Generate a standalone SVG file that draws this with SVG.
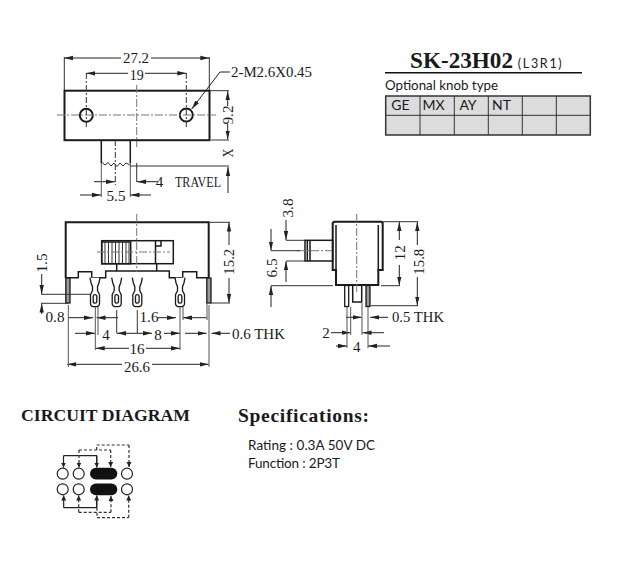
<svg xmlns="http://www.w3.org/2000/svg" xmlns:xlink="http://www.w3.org/1999/xlink" width="617" height="567" viewBox="0 0 617 567">
<style>
.o{fill:none;stroke:#1a1a1a;stroke-width:1.5}
.oo{fill:none;stroke:#1a1a1a;stroke-width:2}
.t{fill:none;stroke:#333;stroke-width:1}
.g{fill:none;stroke:#555;stroke-width:1}
.c{fill:none;stroke:#777;stroke-width:1;stroke-dasharray:8 2 2 2}
.cd{fill:none;stroke:#333;stroke-width:1;stroke-dasharray:6 2 2 2}
.a{fill:none;stroke:#222;stroke-width:1;marker-end:url(#ah)}
.ca{fill:none;stroke:#222;stroke-width:1.2;marker-end:url(#sa)}
.cl{fill:none;stroke:#222;stroke-width:1.2}
.da{fill:none;stroke:#333;stroke-width:1.2;stroke-dasharray:3 2;marker-end:url(#sa)}
.dl{fill:none;stroke:#333;stroke-width:1.2;stroke-dasharray:3 2}
text{fill:#1a1a1a}
.d{font-family:"Liberation Serif",serif;font-size:15.5px;text-anchor:middle}
.ds{font-family:"Liberation Serif",serif;font-size:15.5px}
.s{font-family:"Lato","Noto Sans",sans-serif;font-size:13.5px}
.cell{font-family:"Lato","Noto Sans",sans-serif;font-size:14px;text-anchor:middle}
.pin{fill:#fff;stroke:#1a1a1a;stroke-width:1.3}
.sp{fill:#999;stroke:#1a1a1a;stroke-width:1.3}
.nd{fill:#fff;stroke:#222;stroke-width:1.2}
</style>
<defs>
<marker id="ah" markerWidth="10" markerHeight="6" refX="9" refY="3" orient="auto" markerUnits="userSpaceOnUse"><path d="M0,0.8L9,3L0,5.2z" fill="#222"/></marker>
<marker id="sa" markerWidth="6" markerHeight="6" refX="5" refY="3" orient="auto" markerUnits="userSpaceOnUse"><path d="M0,0.5L5,3L0,5.5z" fill="#222"/></marker>
<g id="term">
<path class="pin" d="M-5,0L-4,5L-2.5,9L-2.5,13L-4.5,17L-4.5,26Q-4.5,29 0,29Q4.5,29 4.5,26L4.5,17L2.5,13L2.5,9L4,5L5,0"/>
<rect class="pin" x="-1.8" y="17" width="3.6" height="8.5" rx="1.8"/>
</g>
</defs>
<rect width="617" height="567" fill="#fff"/>

<g id="top-view">
<rect class="oo" x="64.5" y="90.7" width="145" height="49.5"/>
<circle class="oo" cx="86.3" cy="115.3" r="6.5"/>
<circle class="oo" cx="186.3" cy="115" r="6.5"/>
<path class="o" d="M101.3,140V163M130.3,140V163"/>
<path class="t" d="M101.3,162L105,165L108,162.5L111,166L114,163L117,166.5L120,163L123,166L126,163L130.3,165"/>
</g>

<g id="front-view">
<path class="oo" d="M65.7,278V222.3H208.7V278"/>
<path class="o" d="M65.7,277.7H78.3V271.7H91.7V277.7H105.7V271H169.3V277.7H182.7V271.7H196.7V277.7H208.7"/>
<rect class="o" x="101.7" y="240.7" width="71.6" height="23"/>
<path class="o" d="M116.7,263.7V271M156.7,263.7V271M155.5,240.7V263.7M155.5,246H161V241"/>
<path class="o" d="M101.7,242H130.7V263.7H101.7z"/>
<path class="t" d="M105,241V263M108.5,241V263M112,241V263M115.5,241V263M119,241V263M122.5,241V263M126,241V263M129,241V263" stroke-width="2"/>
<rect class="sp" x="65.8" y="278" width="4.2" height="25"/>
<rect class="sp" x="206.8" y="278" width="4.2" height="25"/>
<use xlink:href="#term" href="#term" x="95" y="277.7"/>
<use xlink:href="#term" href="#term" x="116.7" y="277.7"/>
<use xlink:href="#term" href="#term" x="137.3" y="277.7"/>
<use xlink:href="#term" href="#term" x="180" y="277.7"/>
</g>

<g id="side-view">
<path class="oo" d="M336,285V270H332.7V223L334,221.7H381L382.7,223V270H378.3V285H336z"/>
<path class="o" d="M336,225V270M378.3,225V270"/>
<rect class="o" x="305" y="240.3" width="27.7" height="20.7"/>
<path class="o" d="M307.3,240.3V261M310,240.3V261"/>
<path class="o" d="M352.7,285V302H361.7V285"/>
<rect class="pin" x="344.7" y="285.5" width="4" height="21"/>
<rect class="sp" x="366" y="285.5" width="4" height="21"/>
</g>

<g id="circuit">
<circle class="nd" cx="62.7" cy="473.7" r="5.5"/>
<circle class="nd" cx="78.7" cy="473.7" r="5.5"/>
<rect x="90" y="467.7" width="27.3" height="11.8" rx="5.9" fill="#111"/>
<circle class="nd" cx="127" cy="473.7" r="5.5"/>
<circle class="nd" cx="62.7" cy="489.3" r="5.5"/>
<circle class="nd" cx="78.7" cy="489.3" r="5.5"/>
<rect x="90" y="483.4" width="27.3" height="11.8" rx="5.9" fill="#111"/>
<circle class="nd" cx="127" cy="489.3" r="5.5"/>
</g>

<g id="connectors">
<path class="c" d="M57,115H216"/>
<path class="c" d="M136.7,85V147"/>
<path class="cd" d="M86.3,73V128M186.3,73V128M115.3,140V185"/>
<path class="c" d="M136.7,214V272"/>
<path class="c" d="M97,252H170"/>
<path class="c" d="M356.7,214V292"/>
<path class="c" d="M297,250.7H332"/>

<path class="t" d="M64.3,57V90M209.3,57V90"/>
<path class="a" d="M121,58H64.3"/><path class="a" d="M151,58H209.3"/>
<path class="a" d="M128,73.3H86.3"/><path class="a" d="M145,73.3H186.3"/>
<path class="a" d="M230,72H220L191.7,109"/>
<path class="t" d="M210,90.7H229M211,140H229"/>
<path class="a" d="M227.7,106V91"/><path class="a" d="M227.7,124V139.5"/>
<path class="t" d="M130,166H229"/>
<path class="a" d="M228,193V167"/>
<path class="t" d="M136.7,163V182"/>
<path class="a" d="M158,181.7H137"/>
<path class="a" d="M94,181.7H115"/>
<path class="g" d="M101.3,163V197M130.3,163V197"/>
<path class="a" d="M80,195H101"/><path class="a" d="M151,195H130.5"/>

<path class="t" d="M41,294.3H90M41,303.3H68"/>
<path class="a" d="M41.7,274V294"/><path class="a" d="M41.7,314V303.5"/>
<path class="a" d="M68,317.7H93"/><path class="a" d="M118,317.7H96.5"/>
<path class="a" d="M158,317.7H176"/><path class="a" d="M206.7,317.7H183"/>
<path class="t" d="M116.7,310V333.3M137.3,310V333.3"/>
<path class="a" d="M137.3,333.3H117"/>
<path class="a" d="M75,333.3H95"/>
<path class="a" d="M137.3,333.3H152"/>
<path class="a" d="M164,333.3H180"/>
<path class="a" d="M185,333.3H206.7"/>
<path class="a" d="M230,333.3H211.5"/>
<path class="a" d="M129,348.3H95.7"/><path class="a" d="M146,348.3H180"/>
<path class="a" d="M122,364.3H67.3"/><path class="a" d="M152,364.3H208.7"/>
<path class="g" d="M68.3,305V367M95.3,307V350M98,307V335M180,307V350M183,307V320M209,305V367M207,303V320"/>
<path class="t" d="M208,222.3H230M211,303H230"/>
<path class="a" d="M229,245V222.5"/><path class="a" d="M229,278V303"/>

<path class="a" d="M286,220V240"/>
<path class="t" d="M286,240.3H305M286,261H305M271,285.7H333M271,250.7H300"/>
<path class="a" d="M286,282V261.3"/>
<path class="a" d="M271,229V250.5"/>
<path class="a" d="M271,307V286"/>
<path class="t" d="M382,221.7H418M381,285.7H400M371,305.7H418"/>
<path class="a" d="M399.3,240V222"/><path class="a" d="M399.3,265V285.5"/>
<path class="a" d="M417.3,245V222"/><path class="a" d="M417.3,277V305.5"/>
<path class="a" d="M346,317.3H361.7"/><path class="a" d="M388,317.3H370.2"/>
<path class="a" d="M331,332.7H350.5"/><path class="a" d="M384,332.7H362.5"/>
<path class="a" d="M336,346H347"/><path class="a" d="M390,346H368"/>
<path class="g" d="M347,307V348M350.7,307V335M362,303V335M368,307V348"/>

<path class="cl" d="M96.7,467V455.7H63.5"/>
<path class="ca" d="M63.5,455.7V467.5"/><path class="ca" d="M96.7,456V467.5"/>
<path class="dl" d="M79,450H110.7"/>
<path class="da" d="M79,450V467.5"/><path class="da" d="M110.7,450V467"/>
<path class="dl" d="M96.7,450V445H129"/>
<path class="da" d="M129,445V467"/>
<path class="cl" d="M96.7,496V507.7H63.7"/>
<path class="ca" d="M63.7,507.7V495.5"/>
<path class="ca" d="M96.7,507V495.5"/>
<path class="dl" d="M78.7,512.3H111"/>
<path class="da" d="M78.7,512.3V495.5"/><path class="da" d="M111,512.3V496"/>
<path class="dl" d="M97,507.7V517.7H128.7"/>
<path class="da" d="M128.7,517.7V495.5"/>
</g>

<g id="labels">
<text class="d" x="136" y="62.5" textLength="26" lengthAdjust="spacingAndGlyphs">27.2</text>
<text class="d" x="136.7" y="80" textLength="14" lengthAdjust="spacingAndGlyphs">19</text>
<text class="ds" x="231" y="77" textLength="81" lengthAdjust="spacingAndGlyphs">2-M2.6X0.45</text>
<text class="d" transform="translate(233,115) rotate(-90)" textLength="19" lengthAdjust="spacingAndGlyphs">9.2</text>
<text class="d" transform="translate(233,153) rotate(-90)" textLength="9" lengthAdjust="spacingAndGlyphs">X</text>
<text class="d" x="159.5" y="187" textLength="7.5" lengthAdjust="spacingAndGlyphs">4</text>
<text class="ds" x="175" y="187" textLength="46" lengthAdjust="spacingAndGlyphs">TRAVEL</text>
<text class="d" x="116" y="201" textLength="19" lengthAdjust="spacingAndGlyphs">5.5</text>
<text class="d" transform="translate(47,263) rotate(-90)" textLength="19" lengthAdjust="spacingAndGlyphs">1.5</text>
<text class="d" x="55" y="322" textLength="19" lengthAdjust="spacingAndGlyphs">0.8</text>
<text class="d" x="149" y="322" textLength="19" lengthAdjust="spacingAndGlyphs">1.6</text>
<text class="d" x="106" y="339.5" textLength="7.5" lengthAdjust="spacingAndGlyphs">4</text>
<text class="d" x="158" y="339.5" textLength="7.5" lengthAdjust="spacingAndGlyphs">8</text>
<text class="ds" x="232" y="339" textLength="53" lengthAdjust="spacingAndGlyphs">0.6  THK</text>
<text class="d" x="137" y="354" textLength="15" lengthAdjust="spacingAndGlyphs">16</text>
<text class="d" x="137" y="371.5" textLength="26" lengthAdjust="spacingAndGlyphs">26.6</text>
<text class="d" transform="translate(234,261.7) rotate(-90)" textLength="26" lengthAdjust="spacingAndGlyphs">15.2</text>
<text class="d" transform="translate(293,208) rotate(-90)" textLength="19" lengthAdjust="spacingAndGlyphs">3.8</text>
<text class="d" transform="translate(277,268) rotate(-90)" textLength="19" lengthAdjust="spacingAndGlyphs">6.5</text>
<text class="d" transform="translate(405,252.7) rotate(-90)" textLength="15" lengthAdjust="spacingAndGlyphs">12</text>
<text class="d" transform="translate(423.5,261.7) rotate(-90)" textLength="26" lengthAdjust="spacingAndGlyphs">15.8</text>
<text class="ds" x="392" y="322" textLength="52" lengthAdjust="spacingAndGlyphs">0.5  THK</text>
<text class="d" x="326" y="338" textLength="7.5" lengthAdjust="spacingAndGlyphs">2</text>
<text class="d" x="356.7" y="352" textLength="7.5" lengthAdjust="spacingAndGlyphs">4</text>
</g>

<g id="title">
<text x="410" y="68.3" font-family="Liberation Serif,serif" font-weight="bold" font-size="23" textLength="103" lengthAdjust="spacingAndGlyphs">SK-23H02</text>
<text x="517.7" y="68" font-family="Lato,Noto Sans,sans-serif" font-size="12.5" textLength="44" lengthAdjust="spacing">(L3R1)</text>
<path d="M385,72.7H582" stroke="#111" stroke-width="1.6" fill="none"/>
<text class="s" x="385" y="90" textLength="113" lengthAdjust="spacingAndGlyphs">Optional knob type</text>
</g>

<g id="knob-table">
<rect x="385.7" y="96" width="204.6" height="39" fill="#dcdcdc" stroke="#333" stroke-width="1.5"/>
<path d="M385.7,115.3H590.3M420,96V135M454.3,96V135M488.3,96V135M522.3,96V135M556.3,96V135" stroke="#333" stroke-width="1" fill="none"/>
<text class="cell" x="400.5" y="110">GE</text>
<text class="cell" x="433.5" y="110">MX</text>
<text class="cell" x="468" y="110">AY</text>
<text class="cell" x="501.5" y="110">NT</text>
</g>

<g id="captions">
<text x="21" y="421" font-family="Liberation Serif,serif" font-weight="bold" font-size="16.5" textLength="169" lengthAdjust="spacingAndGlyphs">CIRCUIT DIAGRAM</text>
<text x="238" y="421.7" font-family="Liberation Serif,serif" font-weight="bold" font-size="19.5" textLength="131" lengthAdjust="spacing">Specifications:</text>
<text class="s" x="248" y="450" textLength="127" lengthAdjust="spacing">Rating : 0.3A 50V DC</text>
<text class="s" x="248" y="468" textLength="92" lengthAdjust="spacing">Function : 2P3T</text>
</g>
</svg>
